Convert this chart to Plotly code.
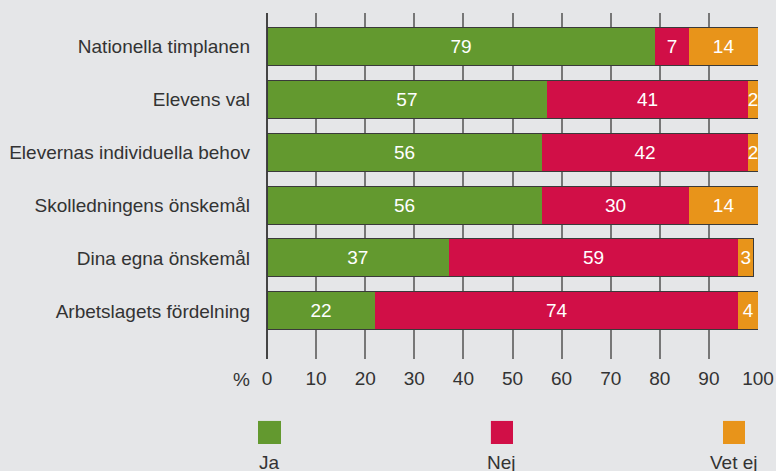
import plotly.graph_objects as go

categories = [
    "Nationella timplanen",
    "Elevens val",
    "Elevernas individuella behov",
    "Skolledningens önskemål",
    "Dina egna önskemål",
    "Arbetslagets fördelning",
]
series_names = ["Ja", "Nej", "Vet ej"]
ja = [79, 57, 56, 56, 37, 22]
nej = [7, 41, 42, 30, 59, 74]
vet_ej = [14, 2, 2, 14, 3, 4]
x_ticks = [0, 10, 20, 30, 40, 50, 60, 70, 80, 90, 100]

colors = ["#63992f", "#d10f47", "#e8941a"]
FONT = "Liberation Sans, Arial, sans-serif"
BG = "#e5e6e8"
FS = 19

fig = go.Figure()
for name, vals, col in zip(series_names, [ja, nej, vet_ej], colors):
    fig.add_trace(go.Bar(
        y=categories, x=vals, name=name, orientation="h",
        marker=dict(color=col, line=dict(width=0)),
        text=[str(v) for v in vals], textposition="inside",
        insidetextanchor="middle", constraintext="none",
        textfont=dict(color="white", size=FS, family=FONT),
        showlegend=False, cliponaxis=False,
    ))

# outline of each full stacked bar (drawn on an overlaid twin axis)
totals = [a + b + c for a, b, c in zip(ja, nej, vet_ej)]
fig.add_trace(go.Bar(
    y=categories, x=totals, orientation="h", yaxis="y2",
    marker=dict(color="rgba(0,0,0,0)", line=dict(color="#3a3a3a", width=1)),
    showlegend=False, hoverinfo="skip",
))

fig.update_layout(
    barmode="stack",
    bargap=0.283,
    width=776, height=471,
    margin=dict(l=267, r=18, t=13, b=112, autoexpand=False),
    paper_bgcolor=BG, plot_bgcolor=BG,
    font=dict(family=FONT, size=FS, color="#333333"),
)
fig.update_xaxes(
    range=[0, 100], tickvals=x_ticks, ticktext=[str(t) for t in x_ticks],
    showgrid=True, gridcolor="#777777", gridwidth=1.5,
    zeroline=True, zerolinecolor="#444444", zerolinewidth=1.5,
    showline=False, ticks="", tickfont=dict(size=FS, color="#333333"),
    ticklabelstandoff=6, automargin=False,
)
fig.update_yaxes(
    categoryorder="array", categoryarray=categories,
    range=[5.906, -0.623], showgrid=False, zeroline=False, showline=False,
    ticks="", ticklabelstandoff=16, tickfont=dict(size=FS, color="#333333"),
    automargin=False,
)
fig.update_layout(yaxis2=dict(
    overlaying="y", categoryorder="array", categoryarray=categories,
    range=[5.906, -0.623], visible=False, automargin=False,
))

# "%" unit label before the x ticks
fig.add_annotation(text="%", xref="paper", yref="paper", x=-0.051, y=-0.058,
                   showarrow=False, font=dict(size=FS, color="#333333"),
                   xanchor="center", yanchor="middle")

# custom legend: squares with labels underneath
legend_x = [(-0.0183, 0.0285), (0.456, 0.501), (0.9287, 0.9735)]
for (x0, x1), name, col in zip(legend_x, series_names, colors):
    fig.add_shape(type="rect", xref="paper", yref="paper", x0=x0, x1=x1,
                  y0=-0.2457, y1=-0.179, fillcolor=col, line=dict(width=0))
    fig.add_annotation(text=name, xref="paper", yref="paper", x=(x0 + x1) / 2,
                       y=-0.298, showarrow=False, xanchor="center",
                       yanchor="middle", font=dict(size=FS, color="#333333"))

fig.write_html("out.html", config={"displayModeBar": False})
with open("out.html", "r", encoding="utf-8") as f:
    html = f.read()
html = html.replace("<head>", "<head><style>html,body{margin:0;padding:0;overflow:hidden}</style>", 1)
with open("out.html", "w", encoding="utf-8") as f:
    f.write(html)
